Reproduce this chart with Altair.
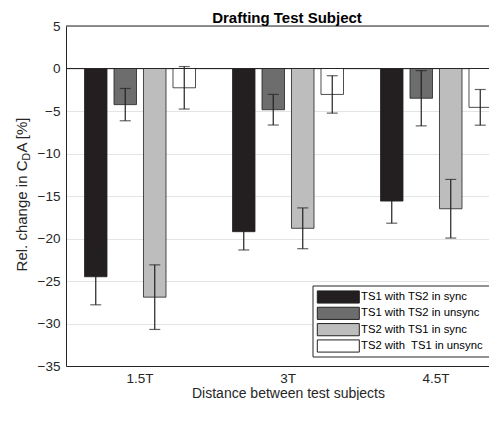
import altair as alt
import pandas as pd

categories = ["1.5T", "3T", "4.5T"]
series = ["TS1 with TS2 in sync", "TS1 with TS2 in unsync",
          "TS2 with TS1 in sync", "TS2 with\u00a0 TS1 in unsync"]
ts1_sync = [-24.5, -19.2, -15.6]
ts1_sync_err = [3.3, 2.15, 2.6]
ts1_unsync = [-4.25, -4.85, -3.5]
ts1_unsync_err = [1.9, 1.8, 3.25]
ts2_sync = [-26.9, -18.8, -16.5]
ts2_sync_err = [3.8, 2.4, 3.45]
ts2_unsync = [-2.27, -3.05, -4.57]
ts2_unsync_err = [2.5, 2.2, 2.1]
colors = ["#231f20", "#6d6d6d", "#bdbdbd", "#ffffff"]
y_ticks = [-35, -30, -25, -20, -15, -10, -5, 0, 5]

vals = [ts1_sync, ts1_unsync, ts2_sync, ts2_unsync]
errs = [ts1_sync_err, ts1_unsync_err, ts2_sync_err, ts2_unsync_err]
rows = []
for s, v, e in zip(series, vals, errs):
    for c, vv, ee in zip(categories, v, e):
        rows.append({"cat": c, "series": s, "value": vv, "lo": vv - ee, "hi": vv + ee})
df = pd.DataFrame(rows)
leg_df = pd.DataFrame({"series": series})

FONT = "Liberation Sans"
AX = "#262626"
W, H = 423, 340

xscale = alt.Scale(domain=categories, paddingInner=0.25, paddingOuter=0.125, rangeMax=444)
yscale = alt.Scale(domain=[-35, 5], nice=False, zero=False)

x_enc = alt.X("cat:N", sort=categories, scale=xscale,
              axis=alt.Axis(title="Distance between test subjects", labelAngle=0,
                            labelPadding=5, ticks=False, bandPosition=0.5,
                            titleX=222, titlePadding=2))
y_axis = alt.Axis(values=y_ticks, title=None, ticks=False, labelPadding=6)
xo = alt.XOffset("series:N", sort=series,
                 scale=alt.Scale(domain=series, paddingInner=0.237, paddingOuter=0))
xs = alt.X("cat:N", sort=categories)

base = alt.Chart(df)

bars = base.mark_bar(stroke="#222222", strokeWidth=0.8).encode(
    x=x_enc,
    xOffset=xo,
    y=alt.Y("value:Q", scale=yscale, axis=y_axis),
    fill=alt.Fill("series:N", sort=series,
                  scale=alt.Scale(domain=series, range=colors), legend=None),
)

err_line = base.mark_rule(color="#222222", strokeWidth=1.2).encode(
    x=xs, xOffset=xo, y="lo:Q", y2="hi:Q")
cap_lo = base.mark_tick(color="#222222", orient="horizontal", size=11, thickness=1.2).encode(
    x=xs, xOffset=xo, y="lo:Q")
cap_hi = base.mark_tick(color="#222222", orient="horizontal", size=11, thickness=1.2).encode(
    x=xs, xOffset=xo, y="hi:Q")

one = alt.Chart(pd.DataFrame({"a": [0]}))
zero_rule = one.mark_rule(color=AX, strokeWidth=1).encode(y=alt.datum(0))
top_rule = one.mark_rule(color=AX, strokeWidth=1).encode(y=alt.datum(5))

title_txt = one.mark_text(align="center", baseline="middle", fontSize=15,
                          fontWeight="bold", font=FONT, color="#000000").encode(
    x=alt.value(221), y=alt.value(-8), text=alt.value("Drafting Test Subject"))

t1 = one.mark_text(angle=270, align="right", baseline="middle", fontSize=15,
                   font=FONT, color=AX).encode(
    x=alt.value(-44), y=alt.value(134.5), text=alt.value("Rel. change in C"))
t2 = one.mark_text(angle=270, align="left", baseline="middle", fontSize=10.5,
                   font=FONT, color=AX).encode(
    x=alt.value(-39), y=alt.value(134.5), text=alt.value("D"))
t3 = one.mark_text(angle=270, align="left", baseline="middle", fontSize=15,
                   font=FONT, color=AX).encode(
    x=alt.value(-44), y=alt.value(126.5), text=alt.value("A [%]"))

# legend drawn as its own layer
leg_y = alt.Y("series:N", sort=series,
              scale=alt.Scale(type="point", domain=series, range=[271, 320], padding=0),
              axis=None)
leg = alt.Chart(leg_df)
leg_box = one.mark_rect(fill="#ffffff", stroke=AX, strokeWidth=1).encode(
    x=alt.value(247), x2=alt.value(460), y=alt.value(260), y2=alt.value(331))
leg_sym = leg.mark_point(shape="M-1,-0.29H1V0.29H-1Z", size=1764, filled=True,
                         opacity=1, stroke="#222222", strokeWidth=1).encode(
    x=alt.value(272.3), y=leg_y,
    fill=alt.Fill("series:N", sort=series,
                  scale=alt.Scale(domain=series, range=colors), legend=None))
leg_txt = leg.mark_text(align="left", baseline="middle", font=FONT, fontSize=11.3,
                        color="#000000").encode(
    x=alt.value(295), y=leg_y, text="series:N")
legend = alt.layer(leg_box, leg_sym, leg_txt)

main = alt.layer(bars, zero_rule, top_rule, err_line, cap_lo, cap_hi,
                 title_txt, t1, t2, t3)

chart = alt.layer(main, legend).resolve_scale(y="independent").properties(
    width=W, height=H,
    autosize=alt.AutoSizeParams(type="none"),
    padding={"left": 58, "top": 18, "right": 0, "bottom": 34},
).configure_view(strokeWidth=0).configure_axis(
    labelFont=FONT, labelFontSize=13.5, labelColor=AX,
    titleFont=FONT, titleFontSize=14, titleFontWeight="normal", titleColor=AX,
    domainColor=AX, domainWidth=1, gridColor="#e4e4e4", gridWidth=1,
)

chart.save("out.html", embed_options={"renderer": "svg", "actions": False})
